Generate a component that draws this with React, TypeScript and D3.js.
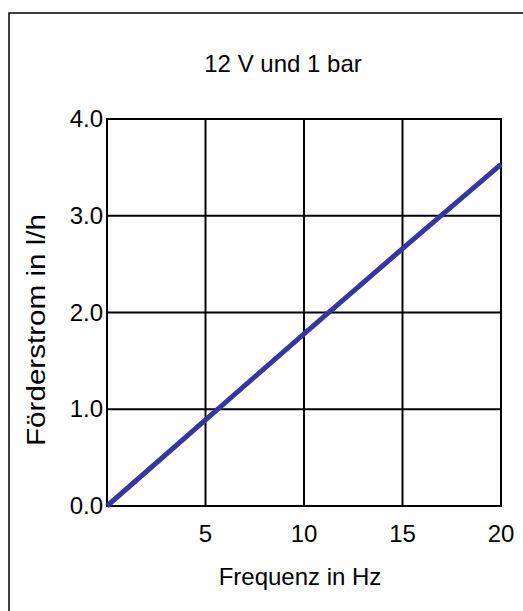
import * as d3 from 'd3'

const freq = [0, 5, 10, 15, 20]
const flow = [0, 0.89, 1.78, 2.66, 3.53]
const xTicks = [5, 10, 15, 20]
const yTicks = [0, 1, 2, 3, 4]
const title = '12 V und 1 bar'
const xLabel = 'Frequenz in Hz'
const yLabel = 'Förderstrom in l/h'

const W = 523
const H = 611
const plot = {left: 107, right: 501, top: 119, bottom: 506}

const App = () => {
    const x = d3.scaleLinear().domain([0, 20]).range([plot.left, plot.right])
    const y = d3.scaleLinear().domain([0, 4]).range([plot.bottom, plot.top])

    const line = d3.line<number>()
        .x((d, i) => x(freq[i]))
        .y(d => y(d))

    const font = '"Liberation Sans", Arial, sans-serif'

    return (
        <svg width={W} height={H} style={{position: 'absolute', left: 0, top: 0, background: '#fff'}}
             fontFamily={font}>
            <rect x={9} y={13} width={W + 20} height={H + 20} fill="#fff" stroke="#000" strokeWidth={1.5}/>

            <text x={283} y={72} fontSize={24} textAnchor="middle">{title}</text>

            {/* grid */}
            {xTicks.slice(0, -1).map(t => (
                <line key={'gx' + t} x1={x(t)} x2={x(t)} y1={plot.top} y2={plot.bottom} stroke="#000" strokeWidth={2}/>
            ))}
            {yTicks.slice(1, -1).map(t => (
                <line key={'gy' + t} x1={plot.left} x2={plot.right} y1={y(t)} y2={y(t)} stroke="#000" strokeWidth={2}/>
            ))}
            <rect x={plot.left} y={plot.top} width={plot.right - plot.left} height={plot.bottom - plot.top}
                  fill="none" stroke="#000" strokeWidth={2}/>

            {/* tick labels */}
            {yTicks.map(t => (
                <text key={'yl' + t} x={plot.left - 4} y={y(t) + 8} fontSize={24} textAnchor="end">{t.toFixed(1)}</text>
            ))}
            {xTicks.map(t => (
                <text key={'xl' + t} x={x(t)} y={542} fontSize={24} textAnchor="middle">{t}</text>
            ))}

            <text x={300} y={585} fontSize={24} textAnchor="middle">{xLabel}</text>
            <text transform="translate(45,330) rotate(-90)" fontSize={25} textAnchor="middle"
                  textLength={232} lengthAdjust="spacingAndGlyphs">{yLabel}</text>

            <path d={line(flow) ?? ''} fill="none" stroke="#3636a3" strokeWidth={5}/>
        </svg>
    )
}

export default App
